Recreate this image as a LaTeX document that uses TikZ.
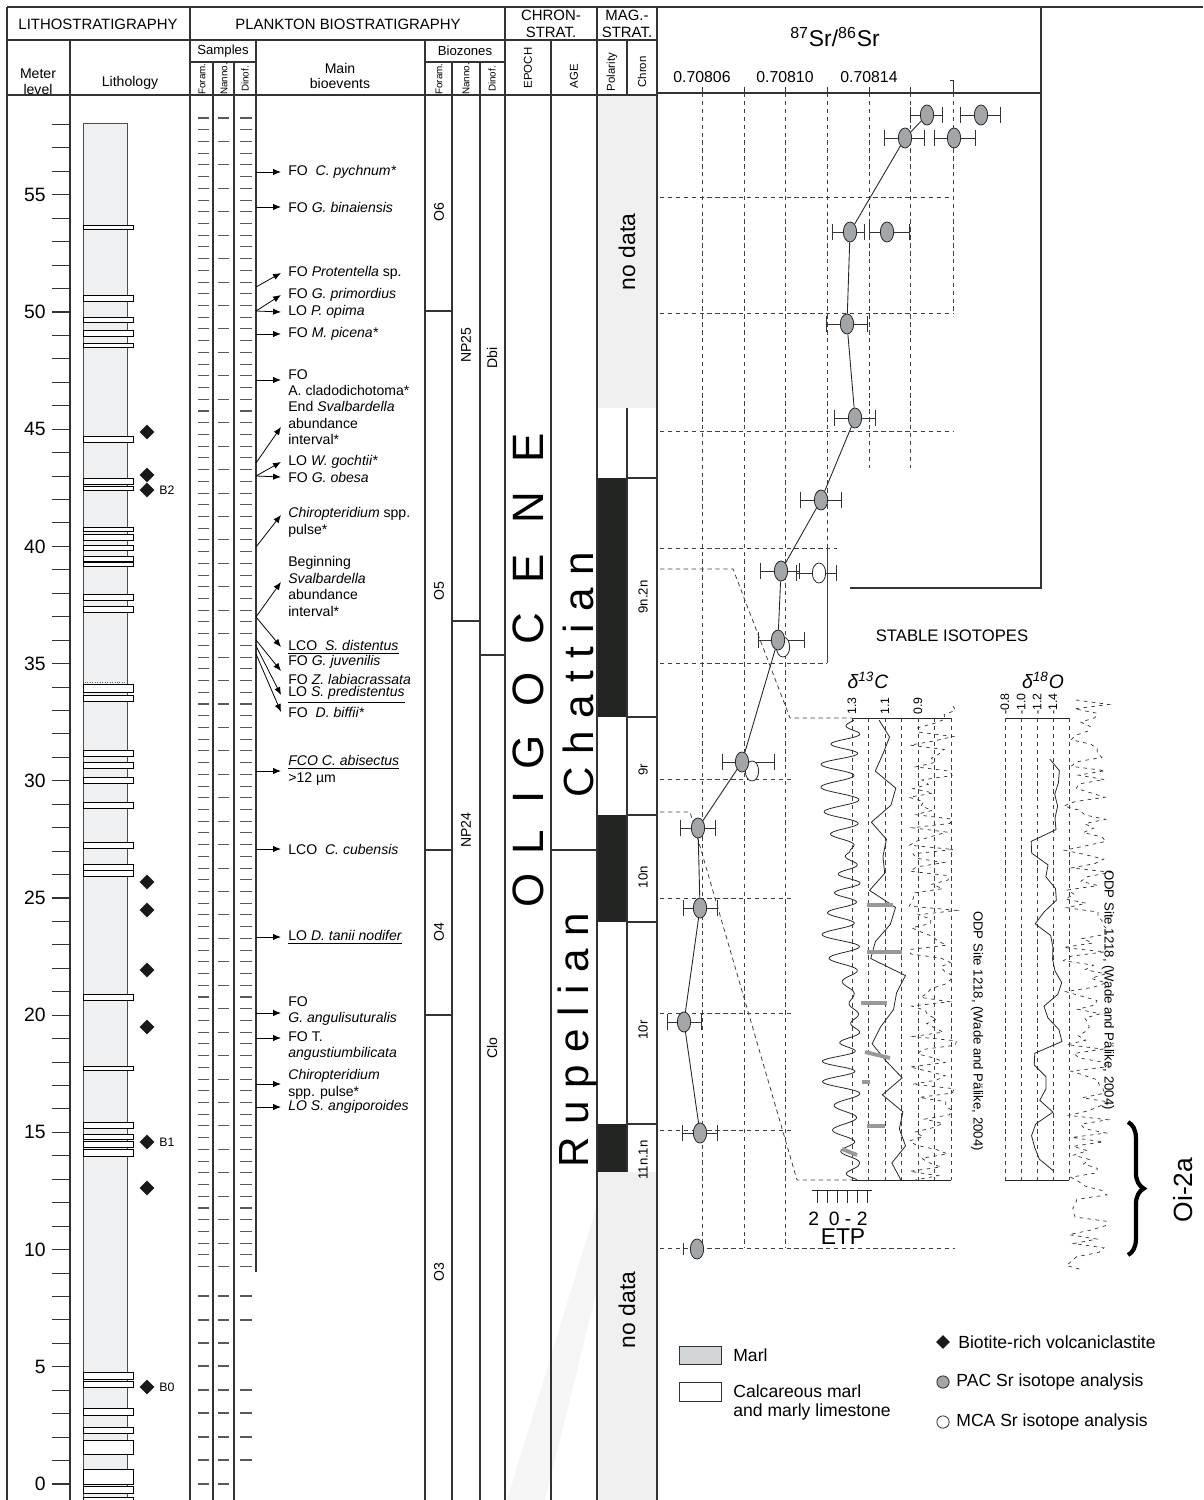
\documentclass[tikz,border=0pt]{standalone}
\usepackage{fontspec}
\setmainfont{Liberation Sans}
\usetikzlibrary{arrows.meta, calc, shapes.geometric, decorations.pathreplacing}
\definecolor{marlfill}{HTML}{EEF0F2}
\definecolor{marlkey}{HTML}{D3D6D8}
\definecolor{nodata}{HTML}{F0F0F0}
\definecolor{srgray}{HTML}{A2A6A9}
\definecolor{polblack}{HTML}{222422}
\def\mpx{23.44}
\def\mzero{1484}
\tikzset{
	every node/.style={
		font=\fontsize{8}{9.4}\selectfont,
		inner sep=0pt
	},
	frame/.style={line width=0.6pt, draw=black!80},
	head/.style={font=\fontsize{8.5}{10}\selectfont, align=center},
	subhead/.style={font=\fontsize{5.6}{6}\selectfont, rotate=90},
	meterlab/.style={anchor=east, font=\fontsize{11}{12}\selectfont},
	sampletick/.style={line width=0.6pt, draw=black!65},
	bed/.style={fill=white, draw=black, line width=0.5pt},
	biotite/.style={shape=diamond, fill=black!90, minimum width=8.6pt, minimum height=8.6pt},
	bioevent/.style={anchor=west, align=left},
	bioeventml/.style={anchor=north west, align=left},
	bioarrow/.style={-{Latex[length=4.5pt,width=3.6pt]}, line width=0.45pt},
	zone/.style={rotate=90, font=\fontsize{8}{9}\selectfont},
	chron/.style={rotate=90, font=\fontsize{7.5}{8}\selectfont},
	epoch/.style={rotate=90, font=\fontsize{25}{25}\selectfont},
	age/.style={rotate=90, font=\fontsize{24}{24}\selectfont\addfontfeatures{LetterSpace=30}},
	grid/.style={dash pattern=on 2.5pt off 2pt, line width=0.45pt, draw=black!75},
	errbar/.style={{Bar[width=9pt]}-{Bar[width=9pt]}, line width=0.5pt, draw=black!80},
	srpac/.style={shape=ellipse, draw=black!85, fill=srgray, line width=0.45pt,
		minimum width=7.6pt, minimum height=11.4pt, inner sep=0pt},
	srmca/.style={srpac, fill=white},
	isoaxis/.style={rotate=90, anchor=west, font=\fontsize{7}{8}\selectfont},
	pulsebar/.style={line width=2.2pt, draw=black!40}
}

\begin{document}
\begin{tikzpicture}[x=0.02cm, y=-0.02cm]
	\useasboundingbox (0,0) rectangle (1203,1500);
	
	% shaded areas of the magnetostratigraphy
	\fill[black!4] (507,1500) -- (545,1500) -- (597,1290) -- (597,1205) -- cycle;
	\fill[nodata] (597,95) rectangle (657,408);
	\fill[nodata] (597,1172) rectangle (657,1500);
	\fill[polblack] (597,478) rectangle (627,717);
	\fill[polblack] (597,815) rectangle (627,922);
	\fill[polblack] (597,1124) rectangle (627,1172);
	
	% lithology column
	\draw[fill=marlfill, draw=black!70, line width=0.5pt] (83,123) rectangle (127,1505);
	\draw[densely dotted, black!60] (85,682) -- (125,682);
	\foreach \a/\b in {225/229.5, 295/301, 317/322, 330/336, 343/347.5, 436/442, 478/484, 486/490.5,
		527/531, 534/540, 545/550, 556/561, 562/566, 594/600, 606/612, 684/692, 695/701,
		750/756, 762/768, 777/783, 802/808, 842/848, 864/870, 870/876, 994/1000, 1066/1070,
		1122/1128, 1134/1139, 1141/1147, 1149/1156, 1372/1379, 1381/1387, 1408/1415,
		1427/1433, 1440/1454, 1469/1484, 1486/1493, 1497/1503}
	\draw[bed] (83,\a) rectangle (133,\b);
	
	% volcaniclastites
	\foreach \y [count=\k] in {432,475,490,882,910,970,1027,1142,1188,1387}
	\node[biotite] (bt\k) at (147,\y) {};
	\node[anchor=west, font=\fontsize{7}{8}\selectfont] (btB2) at (159,490) {B2};
	\node[anchor=west, font=\fontsize{7}{8}\selectfont] (btB1) at (159,1142) {B1};
	\node[anchor=west, font=\fontsize{7}{8}\selectfont] (btB0) at (159,1387) {B0};
	
	% meter scale
	\foreach \m in {0,...,58}
	\draw[black!80, line width=0.6pt] (52,{\mzero-\mpx*\m}) -- (69,{\mzero-\mpx*\m});
	\foreach \m in {0,5,...,55}
	\node[meterlab] (m\m) at (46,{\mzero-\mpx*\m}) {\m};
	
	% sample levels
	\foreach \i in {0,...,98}{
		\draw[sampletick] (198,{118+11.72*\i}) -- (209,{118+11.72*\i});
		\draw[sampletick] (240,{118+11.72*\i}) -- (252,{118+11.72*\i});
	}
	\foreach \i in {0,...,49}
	\draw[sampletick] (218,{118+23.44*\i}) -- (229,{118+23.44*\i});
	\foreach \y in {1296,1320,1343,1366,1390,1413,1437,1460,1484}{
		\draw[sampletick] (198,\y) -- (209,\y);
		\draw[sampletick] (218,\y) -- (229,\y);
	}
	\foreach \y in {1296,1320,1390,1413,1437,1460}
	\draw[sampletick] (240,\y) -- (252,\y);
	
	% frame and column lines
	\draw[frame] (7,7) -- (1203,7);
	\draw[frame] (7,7) -- (7,1500);
	\draw[frame] (7,40) -- (657,40);
	\draw[frame] (190,62) -- (256,62);
	\draw[frame] (425,62) -- (505,62);
	\draw[frame] (7,95) -- (657,95);
	\foreach \x/\ya/\yb in {70/40/1500, 190/7/1500, 213/62/1500, 234/62/1500, 256/40/1272,
		425/40/1500, 452/62/1500, 480/62/1500, 505/7/1500, 551/40/1500, 597/7/1500,
		627/40/95, 627/408/1172, 657/7/1500}
	\draw[frame] (\x,\ya) -- (\x,\yb);
	
	% zone boundaries
	\draw[frame] (425,311) -- (452,311);
	\draw[frame] (425,850) -- (452,850);
	\draw[frame] (425,1015) -- (452,1015);
	\draw[frame] (452,621) -- (480,621);
	\draw[frame] (480,655) -- (505,655);
	\draw[frame] (551,850) -- (597,850);
	\foreach \y in {478,717,815,922,1124}
	\draw[frame] (627,\y) -- (657,\y);
	
	% header
	\node[head] (hlitho) at (98,24) {LITHOSTRATIGRAPHY};
	\node[head] (hplank) at (348,24) {PLANKTON BIOSTRATIGRAPHY};
	\node[head] (hchron) at (551,24) {CHRON-\\STRAT.};
	\node[head] (hmag) at (627,24) {MAG.-\\STRAT.};
	\node[head, font=\fontsize{8}{9}\selectfont] (hmeter) at (38,82) {Meter\\level};
	\node[head, font=\fontsize{8}{9}\selectfont] (hlith) at (130,83) {Lithology};
	\node[font=\fontsize{7.5}{8}\selectfont] (hsamp) at (223,51) {Samples};
	\node[font=\fontsize{7.5}{8}\selectfont] (hbioz) at (465,51) {Biozones};
	\node[head, font=\fontsize{8}{9}\selectfont] (hmain) at (340,76) {Main\\bioevents};
	\node[subhead] (hsf) at (202,79) {Foram.};
	\node[subhead] (hsn) at (224,79) {Nanno.};
	\node[subhead] (hsd) at (245,79) {Dinof.};
	\node[subhead] (hzf) at (439,79) {Foram.};
	\node[subhead] (hzn) at (466,79) {Nanno.};
	\node[subhead] (hzd) at (492,79) {Dinof.};
	\node[subhead, font=\fontsize{6.5}{7}\selectfont] (hepoch) at (528,68) {EPOCH};
	\node[subhead, font=\fontsize{6.5}{7}\selectfont] (hage) at (574,76) {AGE};
	\node[subhead, font=\fontsize{6.5}{7}\selectfont] (hpol) at (612,72) {Polarity};
	\node[subhead, font=\fontsize{6.5}{7}\selectfont] (hchr) at (642,72) {Chron};
	
	% main bioevents
	\foreach \k/\ya/\yb in {1/172/172, 2/207/207, 3/287/273, 4/311/295, 5/311/312, 6/334/334,
		7/380/380, 8/463/427, 9/476/462, 10/476/477, 11/547/515, 12/617/582, 13/617/647,
		14/640/671, 15/646/695, 16/654/712, 17/771/771, 18/849/849, 19/937/937,
		20/1013/1013, 21/1038/1038, 22/1084/1084, 23/1107/1107}{
		\coordinate (s\k) at (256,\ya);
		\coordinate (t\k) at (281,\yb);
		\draw[bioarrow] (s\k) -- (t\k);
	}
	\node[bioevent] (e1) at (288,172) {FO\ \ \textit{C. pychnum*}};
	\node[bioevent] (e2) at (288,207) {FO \textit{G. binaiensis}};
	\node[bioevent] (e3) at (288,273) {FO \textit{Protentella} sp.};
	\node[bioevent] (e4) at (288,295) {FO \textit{G. primordius}};
	\node[bioevent] (e5) at (288,312) {LO \textit{P. opima}};
	\node[bioevent] (e6) at (288,334) {FO \textit{M. picena*}};
	\node[bioeventml] (e7) at (288,369) {FO\\A. cladodichotoma*};
	\node[bioeventml] (e8) at (288,401) {End \textit{Svalbardella}\\abundance\\interval*};
	\node[bioevent] (e9) at (288,462) {LO \textit{W. gochtii*}};
	\node[bioevent] (e10) at (288,477) {FO \textit{G. obesa}};
	\node[bioeventml] (e11) at (288,507) {\textit{Chiropteridium} spp.\\pulse*};
	\node[bioeventml] (e12) at (288,556) {Beginning\\\textit{Svalbardella}\\abundance\\interval*};
	\node[bioevent] (e13) at (288,647) {\underline{LCO\ \ \textit{S. distentus}}};
	\node[bioevent] (e14) at (288,662) {FO \textit{G. juvenilis}};
	\node[bioevent] (e15) at (288,679) {FO \textit{Z. labiacrassata}};
	\node[bioevent] (e16) at (288,695) {\underline{LO \textit{S. predistentus}}};
	\node[bioevent] (e17) at (288,712) {FO\ \ \textit{D. biffii*}};
	\node[bioeventml] (e18) at (288,755) {\underline{\textit{FCO C. abisectus}}\\>12 µm};
	\node[bioevent] (e19) at (288,849) {LCO\ \ \textit{C. cubensis}};
	\node[bioevent] (e20) at (288,937) {\underline{LO \textit{D. tanii nodifer}}};
	\node[bioeventml] (e21) at (288,996) {FO\\\textit{G. angulisuturalis}};
	\node[bioeventml] (e22) at (288,1031) {FO T.\\\textit{angustiumbilicata}};
	\node[bioeventml] (e23) at (288,1069) {\textit{Chiropteridium}\\spp. pulse*};
	\node[bioevent] (e24) at (288,1107) {\textit{LO S. angiporoides}};
	
	% biozones
	\node[zone] (zO6) at (439,212) {O6};
	\node[zone] (zO5) at (439,591) {O5};
	\node[zone] (zO4) at (439,932) {O4};
	\node[zone] (zO3) at (439,1272) {O3};
	\node[zone] (zNP25) at (466,345) {NP25};
	\node[zone] (zNP24) at (466,830) {NP24};
	\node[zone] (zDbi) at (492,358) {Dbi};
	\node[zone] (zClo) at (492,1048) {Clo};
	
	% chronostratigraphy
	\foreach \l/\y [count=\k] in {O/890, L/842, I/797, G/752, O/689, C/629, E/569, N/508, E/448}
	\node[epoch] (ep\k) at (528,\y) {\l};
	\node[age] (chatt) at (578,675) {Chattian};
	\node[age] (rupel) at (578,1040) {Rupelian};
	
	% magnetostratigraphy
	\node[rotate=90, font=\fontsize{13}{14}\selectfont] (nd1) at (627,252) {no data};
	\node[rotate=90, font=\fontsize{13}{14}\selectfont] (nd2) at (627,1310) {no data};
	\node[chron] (c9n) at (643,597) {9n.2n};
	\node[chron] (c9r) at (643,770) {9r};
	\node[chron] (c10n) at (643,877) {10n};
	\node[chron] (c10r) at (643,1030) {10r};
	\node[chron] (c11n) at (643,1160) {11n.1n};
	
	% strontium isotope plot
	\node[font=\fontsize{13}{14}\selectfont] (srtitle) at (835,37) {\textsuperscript{87}Sr/\textsuperscript{86}Sr};
	\node[font=\fontsize{9}{10}\selectfont] (sr1) at (702,77) {0.70806};
	\node[font=\fontsize{9}{10}\selectfont] (sr2) at (785,77) {0.70810};
	\node[font=\fontsize{9}{10}\selectfont] (sr3) at (869,77) {0.70814};
	\draw[frame] (657,93) -- (1041,93);
	\draw[frame] (1041,7) -- (1041,588) -- (850,588);
	\foreach \x in {702,744,785,827,869,910}
	\draw[black!80, line width=0.5pt] (\x,87) -- (\x,93);
	\draw[black!80, line width=0.5pt] (950,80) -- (953,80) -- (953,93);
	\foreach \x/\yb in {702/1248, 744/1248, 785/1248, 827/663, 869/468, 910/468, 953/313}
	\draw[grid] (\x,93) -- (\x,\yb);
	\foreach \y/\xb in {197/953, 313/953, 431/953, 548/837, 663/827, 779/793, 898/793,
		1013/793, 1130/793, 1248/955}
	\draw[grid] (660,\y) -- (\xb,\y);
	\draw[grid] (827,548) -- (827,663);
	\draw[grid] (660,569) -- (733,569) -- (790,718) -- (852,718);
	\draw[grid] (660,812) -- (690,812) -- (797,1180) -- (852,1180);
	
	\foreach \y/\xa/\xb in {115/910/943, 115/960/1001, 138/884/925, 138/934/976, 232/832/865,
		232/869/910, 324/826/868, 418/834/876, 500/800/842, 571/760/800, 573/796/837,
		640/758/805, 762/722/775, 828/680/716, 908/683/718, 1022/667/702, 1133/682/718}
	\draw[errbar] (\xa,\y) -- (\xb,\y);
	\draw[black!80, line width=0.5pt] (683,1243) -- (683,1255);
	\foreach \n/\x/\y in {11/819/573, 12b/783/647, 13b/752/771}
	\node[srmca] (p\n) at (\x,\y) {};
	\foreach \n/\x/\y in {1/927/115, 2/981/115, 3/905/138, 4/954/138, 5/850/232, 6/887/232,
		7/847/324, 8/855/418, 9/821/500, 10/781/571, 12/778/640, 13/742/762, 14/698/828,
		15/700/908, 16/684/1022, 17/700/1133, 18/697/1249}
	\node[srpac] (p\n) at (\x,\y) {};
	\draw[black!85, line width=0.5pt] (p1) -- (p3) -- (p5) -- (p7) -- (p8) -- (p9) -- (p10)
		-- (p12) -- (p13) -- (p14) -- (p15) -- (p16) -- (p17);
	
	% stable isotopes
	\node[font=\fontsize{9.5}{10}\selectfont] (stab) at (952,636) {STABLE ISOTOPES};
	\node[font=\fontsize{11}{12}\selectfont\itshape] (dC) at (868,680) {δ\textsuperscript{13}C};
	\node[font=\fontsize{11}{12}\selectfont\itshape] (dO) at (1043,680) {δ\textsuperscript{18}O};
	\draw[black!85, line width=0.5pt] (852,718) -- (951,718);
	\draw[black!85, line width=0.5pt] (852,1180) -- (951,1180);
	\draw[black!85, line width=0.5pt] (1005,718) -- (1069,718);
	\draw[black!85, line width=0.5pt] (1005,1180) -- (1069,1180);
	\foreach \x in {852,868.5,885,901.5,918,934.5,951,1005,1021,1037,1053,1069}
	\draw[grid] (\x,718) -- (\x,1180);
	\foreach \x/\v [count=\k] in {852/1.3, 885/1.1, 918/0.9, 1005/-0.8, 1021/-1.0, 1037/-1.2, 1053/-1.4}
	\node[isoaxis] (ax\k) at (\x,715) {\v};
	
	% ETP
	\draw[black!85, line width=0.45pt] plot[domain=0:460, samples=800, variable=\t]
		({857-(6+30*abs(sin(\t*1.25+20*sin(\t*3.1))))*(0.5+0.5*sin(\t*17+60*sin(\t*2.3)))+3*sin(\t*5)}, {720+\t});
	% carbon
	\pgfmathsetseed{13}
	\draw[black!85, line width=0.45pt] plot[domain=0:460, samples=28, variable=\t]
		({887+19*rand}, {720+\t});
	\pgfmathsetseed{29}
	\draw[black!80, line width=0.4pt, dash pattern=on 2pt off 2.5pt] plot[domain=-12:462, samples=110, variable=\t]
		({933+24*rand}, {718+\t});
	% oxygen
	\pgfmathsetseed{41}
	\draw[black!85, line width=0.45pt] plot[domain=0:412, samples=36, variable=\t]
		({1045+17*rand}, {759+\t});
	\pgfmathsetseed{57}
	\draw[black!80, line width=0.4pt, dash pattern=on 2pt off 2.5pt] plot[domain=0:570, samples=130, variable=\t]
		({1087+24*rand}, {700+\t});
	
	% pulses
	\draw[pulsebar] (867,905) -- (893,905);
	\draw[pulsebar] (867,952) -- (902,952);
	\draw[pulsebar] (861,1003) -- (887,1003);
	\draw[pulsebar] (865,1052) -- (890,1058);
	\draw[pulsebar] (862,1082) -- (870,1082);
	\draw[pulsebar] (867,1126) -- (885,1126);
	\draw[pulsebar] (842,1149) -- (857,1155);
	
	\node[rotate=-90, font=\fontsize{7.5}{8}\selectfont] (odp1) at (977,1031) {ODP Site 1218, (Wade and Pälike, 2004)};
	\node[rotate=-90, font=\fontsize{7.5}{8}\selectfont] (odp2) at (1108,990) {ODP Site 1218, (Wade and Pälike, 2004)};
	
	% ETP scale
	\draw[black!85, line width=0.5pt] (812,1190) -- (872,1190);
	\foreach \x in {817,827,837,847,857,867}
	\draw[black!85, line width=0.5pt] (\x,1190) -- (\x,1203);
	\node[font=\fontsize{11}{12}\selectfont] (etpnum) at (838,1219) {2\enspace0 - 2};
	\node[font=\fontsize{13}{14}\selectfont] (etp) at (843,1237) {ETP};
	
	% Oi-2a
	\coordinate (oitop) at (1128,1122);
	\coordinate (oibot) at (1128,1255);
	\draw[decorate, decoration={brace, amplitude=9pt}, line width=2.4pt] (oitop) -- (oibot);
	\node[rotate=90, font=\fontsize{15}{16}\selectfont] (oi) at (1183,1190) {Oi-2a};
	
	% legend
	\draw[fill=marlkey, draw=black!80, line width=0.5pt] (679,1346) rectangle (721,1364);
	\node[anchor=west, font=\fontsize{10}{11}\selectfont] (lmarl) at (733,1355) {Marl};
	\draw[fill=white, draw=black!80, line width=0.5pt] (679,1382) rectangle (721,1401);
	\node[anchor=north west, align=left, font=\fontsize{10}{11}\selectfont] (lcalc) at (733,1384) {Calcareous marl\\and marly limestone};
	\node[biotite, minimum width=8pt, minimum height=8pt] (kbt) at (943,1342) {};
	\node[anchor=west, font=\fontsize{10}{11}\selectfont] (lbt) at (958,1342) {Biotite-rich volcaniclastite};
	\node[circle, draw=black!85, fill=srgray, minimum size=7pt, line width=0.45pt] (kpac) at (943,1382) {};
	\node[anchor=west, font=\fontsize{10}{11}\selectfont] (lpac) at (956,1382) {PAC Sr isotope analysis};
	\node[circle, draw=black!85, fill=white, minimum size=7pt, line width=0.45pt] (kmca) at (943,1422) {};
	\node[anchor=west, font=\fontsize{10}{11}\selectfont] (lmca) at (956,1422) {MCA Sr isotope analysis};
\end{tikzpicture}
\end{document}
